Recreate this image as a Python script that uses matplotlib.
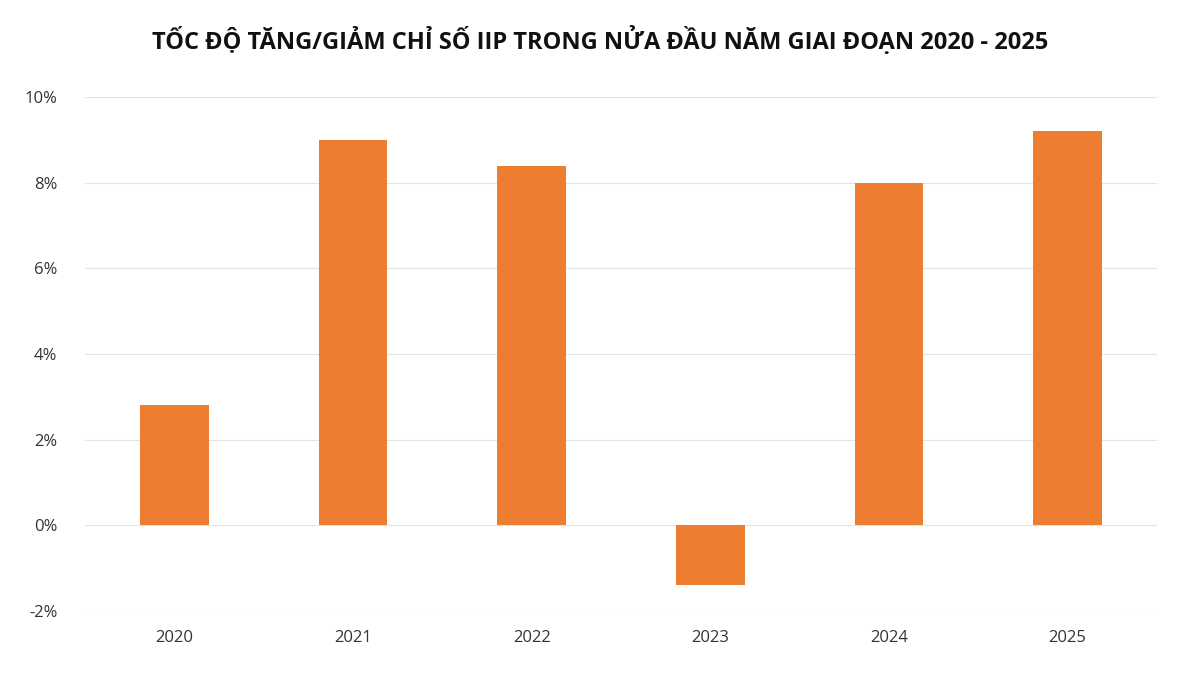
import matplotlib
matplotlib.use("Agg")
import matplotlib.pyplot as plt
from matplotlib.ticker import FuncFormatter

years = ["2020", "2021", "2022", "2023", "2024", "2025"]
values = [2.8, 9.0, 8.4, -1.4, 8.0, 9.2]
yticks = [-2, 0, 2, 4, 6, 8, 10]

plt.rcParams["font.family"] = "Open Sans"
fig = plt.figure(figsize=(12, 6.75), dpi=100)
ax = fig.add_axes([0.071, 0.095, 0.893, 0.761])
x = list(range(len(years)))
ax.bar(x, values, width=0.385, color="#ED7D31", zorder=3)
ax.set_xlim(-0.5, 5.5)
ax.set_ylim(-2, 10)
ax.set_yticks(yticks)
ax.yaxis.set_major_formatter(FuncFormatter(lambda v, p: f"{v:.0f}%"))
ax.set_xticks(x)
ax.set_xticklabels(years)
ax.grid(axis="y", color="#E3E3E3", linewidth=0.8, zorder=0)
for s in ax.spines.values():
    s.set_visible(False)
ax.tick_params(length=0, labelsize=12, colors="#333333")
ax.tick_params(axis="x", pad=14)
ax.tick_params(axis="y", pad=20)
fig.text(0.5, 0.94, "TỐC ĐỘ TĂNG/GIẢM CHỈ SỐ IIP TRONG NỬA ĐẦU NĂM GIAI ĐOẠN 2020 - 2025",
         ha="center", va="center", fontsize=17, fontweight="bold", color="#111111")
fig.savefig("out.png", dpi=100, facecolor="white")
